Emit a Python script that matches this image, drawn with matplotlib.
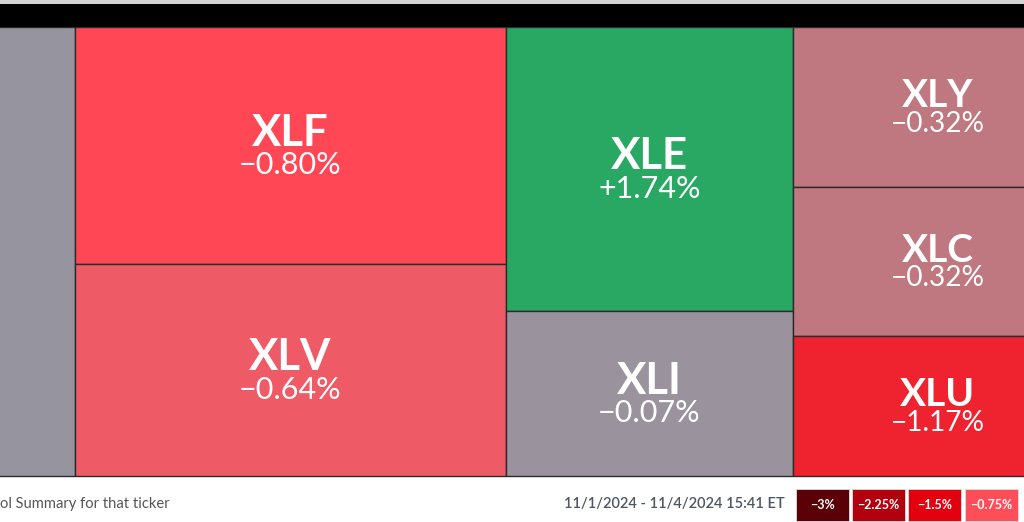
import matplotlib
matplotlib.use("Agg")
import matplotlib.pyplot as plt
from matplotlib.patches import Rectangle

plt.rcParams["font.family"] = ["Lato", "DejaVu Sans"]

# tiles grouped by column; the outer columns are cut off by the view window
columns = [
    ["", ],
    ["XLF", "XLV"],
    ["XLE", "XLI"],
    ["XLY", "XLC", "XLU"],
]
weights = {
    "": 67350,
    "XLF": 102147, "XLV": 91372,
    "XLE": 81508, "XLI": 47355,
    "XLY": 46400, "XLC": 43210, "XLU": 40600,
}
changes = {
    "XLF": -0.80, "XLV": -0.64, "XLE": 1.74, "XLI": -0.07,
    "XLY": -0.32, "XLC": -0.32, "XLU": -1.17,
}
colors = {
    "": "#96959f",
    "XLF": "#ff4756", "XLV": "#ee5a66", "XLE": "#28a862", "XLI": "#9a939e",
    "XLY": "#bf7880", "XLC": "#bf7880", "XLU": "#ef222f",
}

legend_vals = [-3, -2.25, -1.5, -0.75]
legend_cols = ["#5c0008", "#b3000f", "#e3000f", "#ff4d5a"]
date_text = "11/1/2024 - 11/4/2024 15:41 ET"
hint_text = "ol Summary for that ticker"

# label style per column: (ticker size, pct size, pct offset px)
label_style = [None, (31.5, 22, -29), (31.5, 22, -29), (28, 20.2, -25)]


def fmt(v, digits=2):
    s = f"{abs(v):.{digits}f}%"
    return ("+" if v > 0 else "\u2212") + s


W, H = 1024, 522
fig = plt.figure(figsize=(W / 100, H / 100), dpi=100)
ax = fig.add_axes([0, 0, 1, 1])
ax.axis("off")

# treemap area (column slice layout), height in pixels
top, height = 27, 449
x = 0
for col, style in zip(columns, label_style):
    col_sum = sum(weights[t] for t in col)
    cw = col_sum / height
    y = top
    for t in col:
        h = weights[t] / col_sum * height
        ax.add_patch(Rectangle((x, y), cw, h, facecolor=colors[t],
                               edgecolor="#2a2a2a", lw=1.0))
        if t:
            tsize, psize, poff = style
            cx, cy = x + cw / 2, y + h / 2
            ax.annotate(t, (cx, cy), xytext=(0, 0), textcoords="offset pixels",
                        ha="center", va="baseline", color="white",
                        fontsize=tsize, fontweight="bold", annotation_clip=False)
            ax.annotate(fmt(changes[t]), (cx, cy), xytext=(0, poff),
                        textcoords="offset pixels", ha="center", va="baseline",
                        color="white", fontsize=psize, annotation_clip=False)
        y += h
    x += cw

# the view shows only the right part of the first column
left = weights[""] / height / 2
ax.set_xlim(left, left + W)
ax.set_ylim(H, 0)

# header bar
ax.add_patch(Rectangle((left, 0), W, 3.5, color="#d4d4d4", lw=0))
ax.add_patch(Rectangle((left, 3.5), W, 23, color="#000000", lw=0))

# footer
ax.text(left, 504, hint_text, ha="left", va="center", fontsize=10.6, color="#555555")
ax.text(left + 785, 504, date_text, ha="right", va="center", fontsize=10.5,
        color="#4f5660", fontweight="semibold")
bx, bw, gap = left + 796, 53, 3.2
for v, c in zip(legend_vals, legend_cols):
    ax.add_patch(Rectangle((bx, 489), bw, 32, facecolor=c, edgecolor="#dddddd", lw=0.6))
    lab = ("\u2212" if v < 0 else "") + f"{abs(v):g}%"
    ax.text(bx + bw / 2, 505, lab, ha="center", va="center", fontsize=9,
            color="white", fontweight="bold")
    bx += bw + gap

fig.savefig("out.png", dpi=100)
